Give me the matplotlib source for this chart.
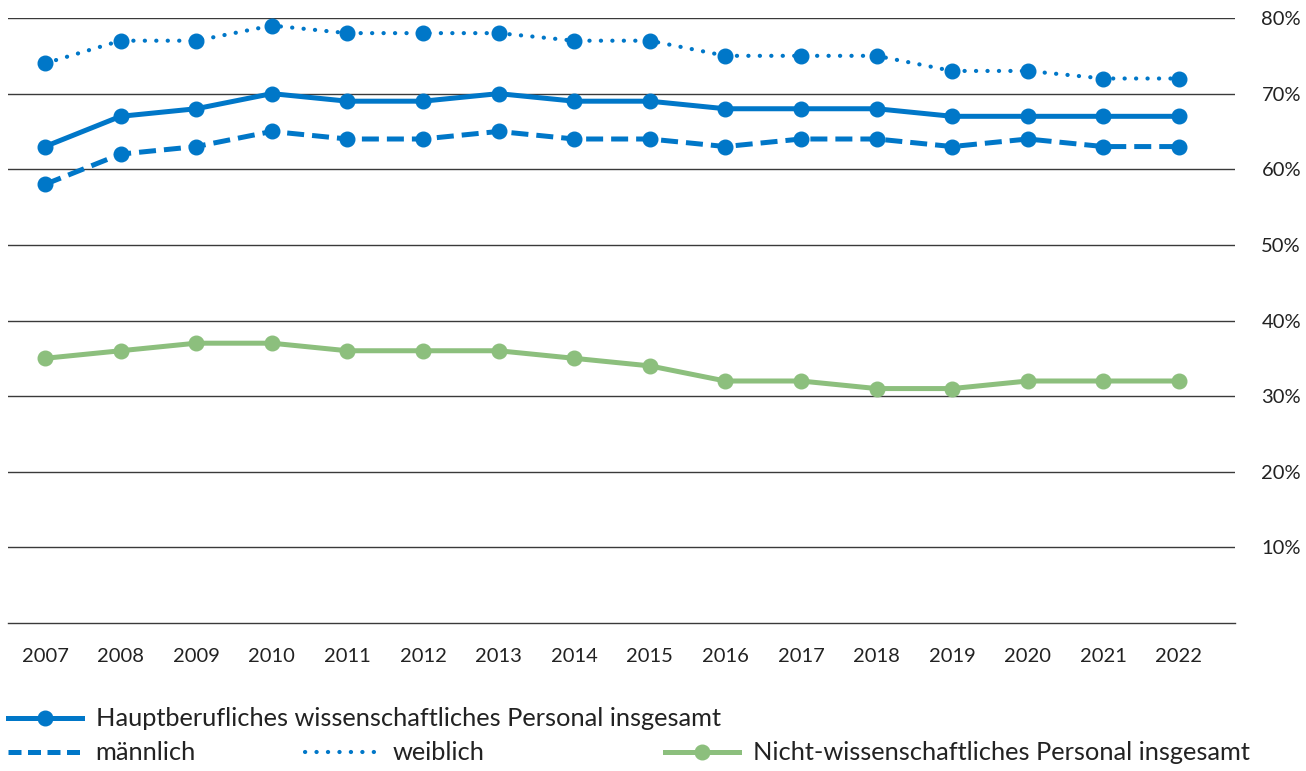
import matplotlib.pyplot as plt
from matplotlib.lines import Line2D

plt.rcParams['font.family'] = ['Lato', 'DejaVu Sans']

years = list(range(2007, 2023))
hauptberuflich = [63, 67, 68, 70, 69, 69, 70, 69, 69, 68, 68, 68, 67, 67, 67, 67]
maennlich = [58, 62, 63, 65, 64, 64, 65, 64, 64, 63, 64, 64, 63, 64, 63, 63]
weiblich = [74, 77, 77, 79, 78, 78, 78, 77, 77, 75, 75, 75, 73, 73, 72, 72]
nicht_wiss = [35, 36, 37, 37, 36, 36, 36, 35, 34, 32, 32, 31, 31, 32, 32, 32]
yticks = [10, 20, 30, 40, 50, 60, 70, 80]

blue = '#0077c8'
green = '#8cbf7d'

fig = plt.figure(figsize=(13.06, 7.71), dpi=100)
ax = fig.add_axes([8/1306, 1 - 623/771, (1235 - 8)/1306, (623 - 18)/771])

dash = (0, (3.4, 1.6))
dot = (0, (0.05, 2.7))

ax.plot(years, weiblich, color=blue, lw=3, linestyle=dot, dash_capstyle='round',
        marker='o', ms=10.5, clip_on=False, zorder=3)
ax.plot(years, hauptberuflich, color=blue, lw=3.6, marker='o', ms=10.5,
        clip_on=False, zorder=3)
ax.plot(years, maennlich, color=blue, lw=3.6, linestyle=dash, marker='o', ms=10.5,
        clip_on=False, zorder=3)
ax.plot(years, nicht_wiss, color=green, lw=3.6, marker='o', ms=10.5,
        clip_on=False, zorder=3)

ax.set_xlim(2006.511, 2022.741)
ax.set_ylim(0, 80)
for y in yticks:
    ax.axhline(y, color='#3a3a3a', lw=1, zorder=1)
for s in ['top', 'left', 'right']:
    ax.spines[s].set_visible(False)
ax.spines['bottom'].set_color('#3a3a3a')
ax.spines['bottom'].set_linewidth(1)

ax.yaxis.tick_right()
ax.set_yticks(yticks, labels=[f'{v}%' for v in yticks])
ax.tick_params(axis='y', length=0, pad=19, labelsize=14.5, labelcolor='#222222')
for lbl in ax.get_yticklabels():
    lbl.set_horizontalalignment('left')
ax.set_xticks(years, labels=[str(y) for y in years])
ax.tick_params(axis='x', length=0, pad=18, labelsize=14.5, labelcolor='#222222')

h_main = Line2D([], [], color=blue, lw=3.6, marker='o', ms=10.5)
h_m = Line2D([], [], color=blue, lw=3.6, linestyle=(0, (2.6, 1.3)))
h_w = Line2D([], [], color=blue, lw=3, linestyle=dot, dash_capstyle='round')
h_n = Line2D([], [], color=green, lw=3.6, marker='o', ms=10.5)

kw = dict(frameon=False, fontsize=18.3, handlelength=2.9, handletextpad=0.55,
          borderpad=0, borderaxespad=0, labelcolor='#222222')
entries = [
    (h_main, 'Hauptberufliches wissenschaftliches Personal insgesamt', 8, 719),
    (h_m, 'männlich', 8, 753),
    (h_w, 'weiblich', 305, 753),
    (h_n, 'Nicht-wissenschaftliches Personal insgesamt', 665, 753),
]
for h, lab, px, py in entries:
    fig.legend([h], [lab], loc='center left',
               bbox_to_anchor=(px/1306, 1 - py/771), **kw)

fig.savefig('out.png', dpi=100)
